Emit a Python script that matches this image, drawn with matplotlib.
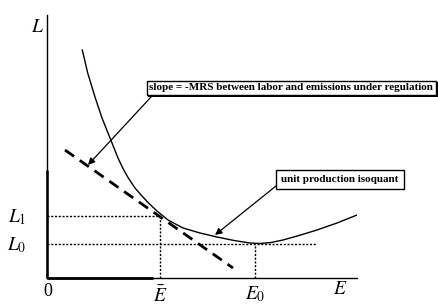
import matplotlib
matplotlib.use("Agg")
import matplotlib.pyplot as plt
import matplotlib.patheffects as pe

plt.rcParams['font.family'] = ['Liberation Serif', 'DejaVu Serif']
plt.rcParams['mathtext.fontset'] = 'stix'

# Isoquant curve points (E, L)
iso_E = [3.53, 4.07, 4.8, 5.5, 6.3, 7.1, 7.6, 8.1, 8.8, 9.5, 10.2, 11.0, 12.1, 13.6, 15.3,
         17.0, 18.7, 20.3, 21.3, 22.4, 23.6, 25.2, 27.0, 29.0, 31.0]
iso_L = [22.8, 20.5, 18.1, 16.0, 14.0, 12.0, 10.95, 10.05, 9.0, 8.2, 7.45, 6.7, 5.8, 5.0, 4.5,
         4.1, 3.75, 3.5, 3.45, 3.55, 3.8, 4.25, 4.8, 5.5, 6.3]

# Tangent (slope) line end points
tan_E = [1.8, 18.6]
tan_L = [12.8, 1.0]

# Key levels
E_bar = 11.3
E_0 = 20.8
L_1 = 6.2
L_0 = 3.4
L0_line_end = 27.0

x_max = 31.0
y_max = 26.3

fig = plt.figure(figsize=(4.39, 3.05), dpi=100)
ax = fig.add_axes([47/439, 27/305, 310/439, 263/305])
ax.set_xlim(0, x_max)
ax.set_ylim(0, y_max)
for s in ['top', 'right']:
    ax.spines[s].set_visible(False)
ax.spines['left'].set_linewidth(1.0)
ax.spines['bottom'].set_linewidth(1.0)
ax.set_xticks([])
ax.set_yticks([])
ax.patch.set_alpha(0)

# thicker lower parts of axes
ax.plot([0, 10.6], [0, 0], color='black', lw=2.0, clip_on=False, solid_capstyle='butt')
ax.plot([0, 0], [0, 10.8], color='black', lw=1.8, clip_on=False, solid_capstyle='butt')

# isoquant
ax.plot(iso_E, iso_L, color='black', lw=1.0, solid_joinstyle='round')

# tangent dashed line
ax.plot(tan_E, tan_L, color='black', lw=2.0, dashes=(4, 2.5))

# dotted guides
dot = (0, (1.5, 1.2))
ax.plot([0, E_bar], [L_1, L_1], color='black', lw=1.0, ls=dot)
ax.plot([0, L0_line_end], [L_0, L_0], color='black', lw=1.0, ls=dot)
ax.plot([E_bar, E_bar], [0, L_1], color='black', lw=1.0, ls=dot)
ax.plot([E_0, E_0], [0, L_0], color='black', lw=1.0, ls=dot)

# axis labels
ax.text(-0.9, 25.1, '$L$', fontsize=14, ha='center', va='center', clip_on=False)
ax.text(-3.0, 6.1, '$L_1$', fontsize=14, ha='center', va='center', clip_on=False)
ax.text(-3.0, 3.3, '$L_0$', fontsize=14, ha='center', va='center', clip_on=False)
ax.text(0.1, -1.3, '0', fontsize=13, ha='center', va='center', clip_on=False)
ax.text(E_bar, -1.8, r'$\bar{E}$', fontsize=14, ha='center', va='center', clip_on=False)
ax.text(E_0, -1.6, '$E_0$', fontsize=14, ha='center', va='center', clip_on=False)
ax.text(29.3, -1.2, '$E$', fontsize=14, ha='center', va='center', clip_on=False)

shadow = [pe.withSimplePatchShadow(offset=(1.2, -1.2), shadow_rgbFace='black', alpha=1.0)]

a1 = ax.annotate('slope = -MRS between labor and emissions under regulation',
                 xy=(4.1, 11.3), xytext=(10.25, 19.0),
                 fontsize=8, fontweight='bold', ha='left', va='center',
                 bbox=dict(boxstyle='square,pad=0.25', fc='white', ec='black', lw=1.0),
                 arrowprops=dict(arrowstyle='-|>,head_length=0.5,head_width=0.25',
                                 color='black', lw=0.9, relpos=(0.02, 0.0),
                                 shrinkA=0, shrinkB=0),
                 annotation_clip=False)
a1.get_bbox_patch().set_path_effects(shadow)

a2 = ax.annotate('unit production isoquant',
                 xy=(16.8, 4.3), xytext=(29.3, 9.9),
                 fontsize=8, fontweight='bold', ha='center', va='center',
                 bbox=dict(boxstyle='square,pad=0.45', fc='white', ec='black', lw=1.0),
                 arrowprops=dict(arrowstyle='-|>,head_length=0.5,head_width=0.25',
                                 color='black', lw=0.9, relpos=(0.0, 0.2),
                                 shrinkA=0, shrinkB=0),
                 annotation_clip=False)
a2.get_bbox_patch().set_path_effects(shadow)

fig.savefig('out.png', dpi=100)
